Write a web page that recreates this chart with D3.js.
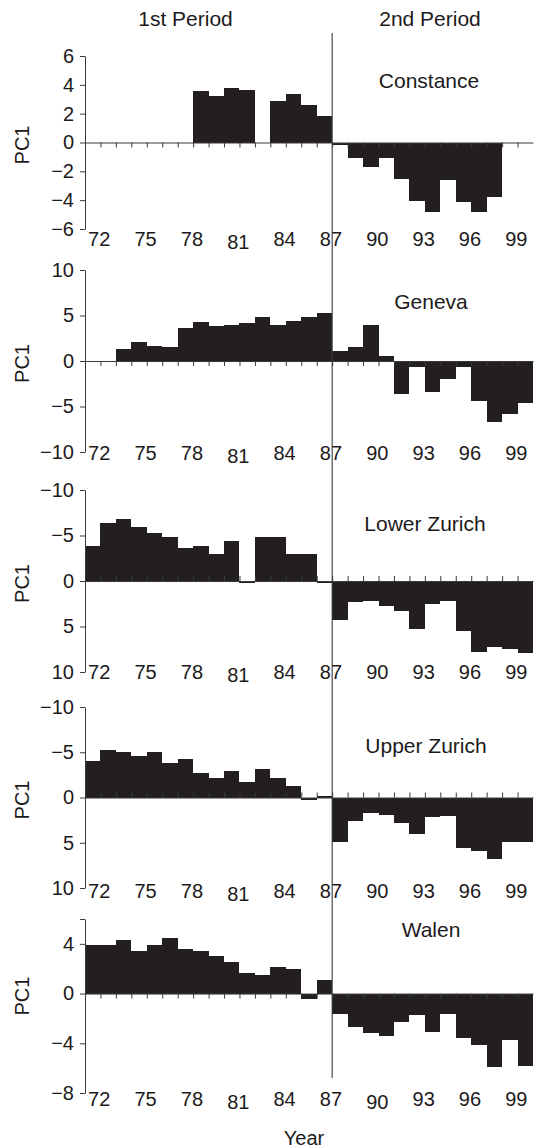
<!DOCTYPE html>
<html>
<head>
<meta charset="utf-8">
<script src="https://cdn.jsdelivr.net/npm/d3@7"></script>
<style>
  html, body { margin: 0; padding: 0; background: #fff; }
  svg { display: block; }
  text { font-family: "Liberation Sans", Arial, Helvetica, sans-serif; fill: #1c1a1b; }
</style>
</head>
<body>
<svg id="chart" width="536" height="1148"></svg>
<script>
// ---------- DATA ----------
const years = d3.range(72, 101);                 // 1972 .. 2000 (one bar per year)
const yearTickLabels = [72, 75, 78, 81, 84, 87, 90, 93, 96, 99];
const lakes = ["Constance", "Geneva", "Lower Zurich", "Upper Zurich", "Walen"];
const periodLabels = ["1st Period", "2nd Period"];

const constance   = [0, 0, 0, 0, 0, 0, 0, 3.6, 3.25, 3.75, 3.65, 0, 2.85, 3.35, 2.6, 1.85,
                     -0.15, -1.1, -1.7, -1.1, -2.5, -4.05, -4.8, -2.6, -4.15, -4.8, -3.8, 0, 0];
const geneva      = [0, 0, 1.35, 2.1, 1.7, 1.55, 3.65, 4.25, 3.8, 3.95, 4.2, 4.8, 4.0, 4.4, 4.8, 5.25,
                     1.05, 1.55, 4.0, 0.5, -3.6, -0.65, -3.4, -1.95, -0.65, -4.45, -6.7, -5.85, -4.65];
const lowerZurich = [-3.85, -6.35, -6.8, -5.95, -5.3, -4.85, -3.6, -3.85, -3.0, -4.45, 0.2, -4.85, -4.85, -3.0, -3.0, 0.2,
                     4.25, 2.3, 2.15, 2.75, 3.35, 5.3, 2.55, 2.15, 5.45, 7.75, 7.2, 7.45, 7.95];
const upperZurich = [-4.0, -5.3, -5.05, -4.6, -5.0, -3.8, -4.25, -2.75, -2.1, -2.95, -1.7, -3.15, -2.1, -1.25, 0.25, -0.2,
                     4.9, 2.55, 1.75, 1.95, 2.8, 4.05, 2.15, 2.0, 5.55, 5.9, 6.75, 4.9, 4.9];
const walen       = [3.9, 3.9, 4.35, 3.45, 3.9, 4.5, 3.6, 3.45, 3.0, 2.55, 1.65, 1.5, 2.1, 2.0, -0.45, 1.1,
                     -1.65, -2.65, -3.15, -3.4, -2.25, -1.75, -3.1, -1.65, -3.55, -4.15, -5.9, -3.75, -5.8];

const yTicksConstance = [-6, -4, -2, 0, 2, 4, 6];
const yTicksGeneva    = [-10, -5, 0, 5, 10];
const yTicksZurich    = [-10, -5, 0, 5, 10];
const yTicksWalen     = [-8, -4, 0, 4, 6];
const yLabeledWalen   = [-8, -4, 0, 4];
const periodBreakYear = 87;   // last year of 1st period

// ---------- LAYOUT ----------
const svg = d3.select("#chart");
const ink = "#1c1a1b";
const barFill = "#231f20";
const axisColor = "#3a3a3a";

const x = d3.scaleBand().domain(years).range([85, 533]).paddingInner(0).paddingOuter(0);
const xb = d3.scaleLinear().domain([72, 101]).range([85, 533]);  // year boundaries

const panels = [
  { name: lakes[0], values: constance,   domain: [-6, 6],   reversed: false, top: 56,  bottom: 229, ticks: yTicksConstance, labeled: yTicksConstance, labelBase: 245.5, nameX: 429, nameY: 88 },
  { name: lakes[1], values: geneva,      domain: [-10, 10], reversed: false, top: 270, bottom: 452, ticks: yTicksGeneva,    labeled: yTicksGeneva,    labelBase: 460,   nameX: 431, nameY: 309 },
  { name: lakes[2], values: lowerZurich, domain: [-10, 10], reversed: true,  top: 490, bottom: 672, ticks: yTicksZurich,    labeled: yTicksZurich,    labelBase: 678.5, nameX: 425, nameY: 531 },
  { name: lakes[3], values: upperZurich, domain: [-10, 10], reversed: true,  top: 707, bottom: 888, ticks: yTicksZurich,    labeled: yTicksZurich,    labelBase: 897.5, nameX: 426, nameY: 753 },
  { name: lakes[4], values: walen,       domain: [-8, 6],   reversed: false, top: 919, bottom: 1093, ticks: yTicksWalen,    labeled: yLabeledWalen,   labelBase: 1106,  nameX: 431, nameY: 937 }
];

const fmt = d3.format("");

panels.forEach((p, pi) => {
  const y = d3.scaleLinear().domain(p.domain)
    .range(p.reversed ? [p.top, p.bottom] : [p.bottom, p.top]);
  const g = svg.append("g");
  const y0 = y(0);

  // bars
  g.append("g").selectAll("rect")
    .data(years.map((yr, i) => ({ yr, v: p.values[i] })).filter(d => d.v !== 0))
    .join("rect")
    .attr("x", d => x(d.yr))
    .attr("width", x.bandwidth())
    .attr("y", d => Math.min(y(d.v), y0))
    .attr("height", d => Math.abs(y(d.v) - y0))
    .attr("fill", barFill)
    .attr("shape-rendering", "crispEdges");

  // zero line with boundary ticks pointing toward negative values
  const negDown = y(-1) > y0;
  const zeroAxis = (negDown ? d3.axisBottom(xb) : d3.axisTop(xb))
    .tickValues(d3.range(73, 101)).tickSize(5).tickSizeOuter(0).tickFormat("");
  g.append("g").attr("transform", `translate(0,${y0})`).call(zeroAxis)
    .call(s => s.selectAll("path,line").attr("stroke", axisColor));

  // y axis
  const yAxis = d3.axisLeft(y).tickValues(p.ticks).tickSize(5).tickPadding(6).tickSizeOuter(0)
    .tickFormat(v => p.labeled.includes(v) ? d3.format("")(v).replace("-", "\u2212") : "");
  g.append("g").attr("transform", "translate(85,0)").call(yAxis)
    .call(s => s.selectAll("path,line").attr("stroke", axisColor))
    .call(s => s.selectAll("text").attr("font-size", 20).attr("fill", ink)
      .attr("font-family", '"Liberation Sans", Arial, sans-serif'));

  // year labels
  const xLab = d3.scaleLinear().domain([72, 99])
    .range([x(72) + x.bandwidth() / 2 + 6, x(99) + x.bandwidth() / 2 + 6]);
  const xAxis = d3.axisBottom(xLab).tickValues(yearTickLabels).tickSize(0).tickPadding(0)
    .tickFormat(d3.format("d"));
  g.append("g").attr("transform", `translate(0,${p.labelBase})`).call(xAxis)
    .call(s => s.select(".domain").remove())
    .call(s => s.selectAll("text")
      .attr("dy", d => (d === 81 || (pi === 4 && d === 90)) ? 3 : 0)
      .attr("font-size", 20).attr("fill", ink)
      .attr("font-family", '"Liberation Sans", Arial, sans-serif'));

  // lake name
  g.append("text").attr("x", p.nameX).attr("y", p.nameY)
    .attr("text-anchor", "middle").attr("font-size", 21).text(p.name);

  // PC1 label
  g.append("text")
    .attr("transform", `translate(29,${y0 + 2.5}) rotate(-90)`)
    .attr("text-anchor", "middle").attr("font-size", 20).text("PC1");
});

// period divider
svg.append("line")
  .attr("x1", x(periodBreakYear) + x.bandwidth()).attr("x2", x(periodBreakYear) + x.bandwidth())
  .attr("y1", 33).attr("y2", 1078)
  .attr("stroke", axisColor).attr("stroke-width", 1.1);

// period labels
svg.append("text").attr("x", 185.5).attr("y", 26).attr("text-anchor", "middle")
  .attr("font-size", 21).text(periodLabels[0]);
svg.append("text").attr("x", 430).attr("y", 26).attr("text-anchor", "middle")
  .attr("font-size", 21).text(periodLabels[1]);

// x axis title
svg.append("text").attr("x", 304).attr("y", 1145).attr("text-anchor", "middle")
  .attr("font-size", 20).text("Year");
</script>
</body>
</html>
